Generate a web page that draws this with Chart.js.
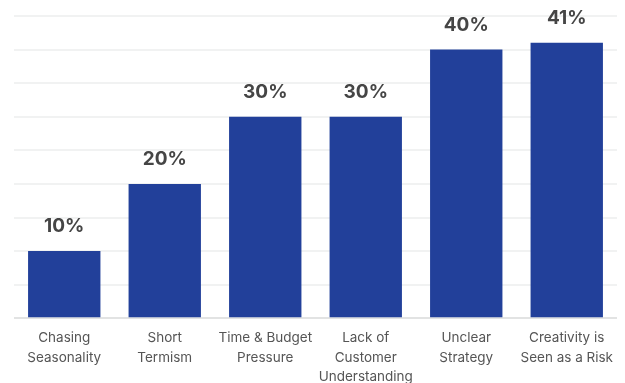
<!DOCTYPE html>
<html>
<head>
<meta charset="utf-8">
<script src="https://cdn.jsdelivr.net/npm/chart.js@4"></script>
<style>
  html, body { margin: 0; padding: 0; background: #fff; overflow: hidden; }
  #wrap { width: 625px; height: 389px; position: relative; }
</style>
</head>
<body>
<div id="wrap"><canvas id="barChart"></canvas></div>
<script>
var labels = [
    ["Chasing", "Seasonality"],
    ["Short", "Termism"],
    ["Time & Budget", "Pressure"],
    ["Lack of", "Customer", "Understanding"],
    ["Unclear", "Strategy"],
    ["Creativity is", "Seen as a Risk"]
];
var values = [10, 20, 30, 30, 40, 41];

// percent labels above each bar
var valueLabels = {
    id: "valueLabels",
    afterDatasetsDraw: function (chart) {
        var ctx = chart.ctx;
        var meta = chart.getDatasetMeta(0);
        ctx.save();
        ctx.font = "bold 19px Inter";
        ctx.fillStyle = "#454545";
        ctx.textAlign = "center";
        ctx.textBaseline = "bottom";
        meta.data.forEach(function (bar, i) {
            ctx.fillText(values[i] + "%", bar.x, bar.y - 15);
        });
        ctx.restore();
    }
};

var data = {
    labels: labels,
    datasets: [{
        data: values,
        backgroundColor: "#22409a",
        borderWidth: 0,
        barPercentage: 0.9,
        categoryPercentage: 0.8
    }]
};

var config = {
    type: "bar",
    data: data,
    options: {
        responsive: true,
        maintainAspectRatio: false,
        animation: false,
        layout: { padding: { left: 14, right: 8, top: 16, bottom: 0 } },
        plugins: {
            legend: { display: false },
            tooltip: { enabled: false }
        },
        scales: {
            x: {
                grid: { display: false },
                border: { display: false },
                ticks: {
                    color: "#555555",
                    font: { family: "Inter", size: 13.5, lineHeight: 1.45 },
                    padding: 2,
                    maxRotation: 0,
                    autoSkip: false
                }
            },
            y: {
                min: 0,
                max: 45,
                border: { display: false },
                ticks: { display: false, stepSize: 5 },
                grid: {
                    lineWidth: 2,
                    drawTicks: false,
                    color: function (c) {
                        return c.tick && c.tick.value === 0 ? "#e2e3e3" : "#f1f2f2";
                    }
                }
            }
        }
    },
    plugins: [valueLabels]
};

var barChart = new Chart(
    document.getElementById("barChart"),
    config
);
</script>
</body>
</html>
